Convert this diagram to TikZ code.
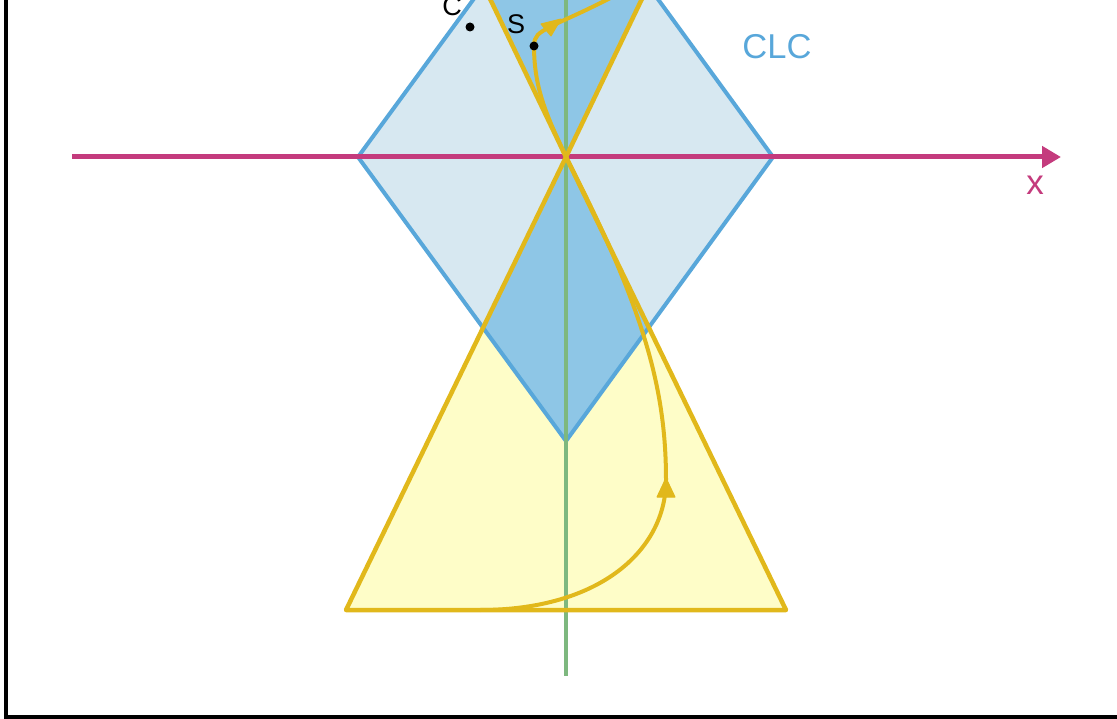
\documentclass[tikz,border=0pt]{standalone}
\usepackage{fontspec}
\setmainfont{Liberation Sans}
\usetikzlibrary{arrows.meta}
\definecolor{clcfill}{HTML}{D7E8F1}
\definecolor{clcline}{HTML}{58A7DA}
\definecolor{deepblue}{HTML}{8EC6E6}
\definecolor{yfill}{HTML}{FEFDC8}
\definecolor{yline}{HTML}{E1B81B}
\definecolor{greenl}{HTML}{7EB87F}
\definecolor{axiscol}{HTML}{C43B7D}
\tikzset{
  clcshape/.style={fill=clcfill,draw=clcline,line width=4pt,line join=miter},
  coneshape/.style={draw=yline,line width=4.5pt,line join=round},
  worldline/.style={draw=yline,line width=4pt},
  whead/.style={fill=yline,draw=yline,line width=1pt,line join=round},
  lbl/.style={inner sep=0pt},
  evdot/.style={circle,fill=black,inner sep=0pt,minimum size=9pt},
}
\begin{document}
\begin{tikzpicture}[x=1pt,y=-1pt]
\useasboundingbox (0,0) rectangle (1117,719);
\coordinate (O) at (566,157);
\coordinate (L) at (358,157);
\coordinate (R) at (773,157);
\coordinate (B) at (566,441);
\coordinate (T) at (566,-127);
\coordinate (YL) at (346,610);
\coordinate (YR) at (786,610);
\coordinate (UL) at (481,-20);
\coordinate (UR) at (651,-20);
\begin{scope}
\clip (0,0) rectangle (1117,719);
% yellow lower cone fill
\fill[yfill] (O) -- (YL) -- (YR) -- cycle;
% CLC diamond
\fill[clcfill] (L) -- (T) -- (R) -- (B) -- cycle;
\begin{scope}
\clip (L) -- (T) -- (R) -- (B) -- cycle;
\fill[deepblue] (O) -- (YL) -- (YR) -- cycle;
\fill[deepblue] (O) -- (UL) -- (UR) -- cycle;
\end{scope}
\draw[clcshape,fill=none] (L) -- (T) -- (R) -- (B) -- cycle;
% green vertical axis
\coordinate (Gt) at (566,-5);
\coordinate (Gb) at (566,676);
\draw[greenl,line width=4.5pt] (Gt) -- (Gb);
% x axis
\coordinate (Xa) at (72,157);
\coordinate (Xb) at (1061,157);
\draw[axiscol,line width=5pt,-{Triangle[length=19pt,width=21pt]}] (Xa) -- (Xb);
% cones
\draw[coneshape] (O) -- (YL) -- (YR) -- cycle;
\draw[coneshape] (UL) -- (O) -- (UR);
% lower worldline
\coordinate (W0) at (480,610);
\coordinate (W1) at (666,480);
\draw[worldline] (W0) .. controls (600,610) and (666,550) .. (W1)
   .. controls (666,390) and (645,310) .. (O);
\coordinate (H1t) at (666,478);
\coordinate (H1a) at (657,497);
\coordinate (H1b) at (675,497);
\fill[whead] (H1t) -- (H1a) -- (H1b) -- cycle;
% upper worldline
\coordinate (S) at (534,46);
\coordinate (M) at (548,28);
\coordinate (E) at (618,-6);
\draw[worldline] (O) .. controls (548,118) and (534,90) .. (S)
   .. controls (534,36) and (539,33) .. (M)
   .. controls (556,23) and (578,15) .. (E);
\coordinate (H2t) at (561,19);
\coordinate (H2a) at (551,36);
\coordinate (H2b) at (541,24);
\fill[whead] (H2t) -- (H2a) -- (H2b) -- cycle;
% events
\node[evdot] (dS) at (S) {};
\node[evdot] (dC) at (470,27) {};
\node[lbl,font=\fontsize{27}{32}\selectfont] (tS) at (516,24) {S};
\node[lbl,font=\fontsize{27}{32}\selectfont] (tC) at (452,6) {C};
% labels
\node[lbl,text=clcline,font=\fontsize{34.5}{40}\selectfont] (tCLC) at (777,47) {CLC};
\node[lbl,text=axiscol,font=\fontsize{35}{40}\selectfont] (tx) at (1035,185.5) {x};
% frame
\coordinate (F1) at (5.5,-5);
\coordinate (F2) at (5.5,717);
\coordinate (F3) at (1125,717);
\draw[black,line width=4pt,line join=miter] (F1) -- (F2) -- (F3);
\end{scope}
\end{tikzpicture}
\end{document}
